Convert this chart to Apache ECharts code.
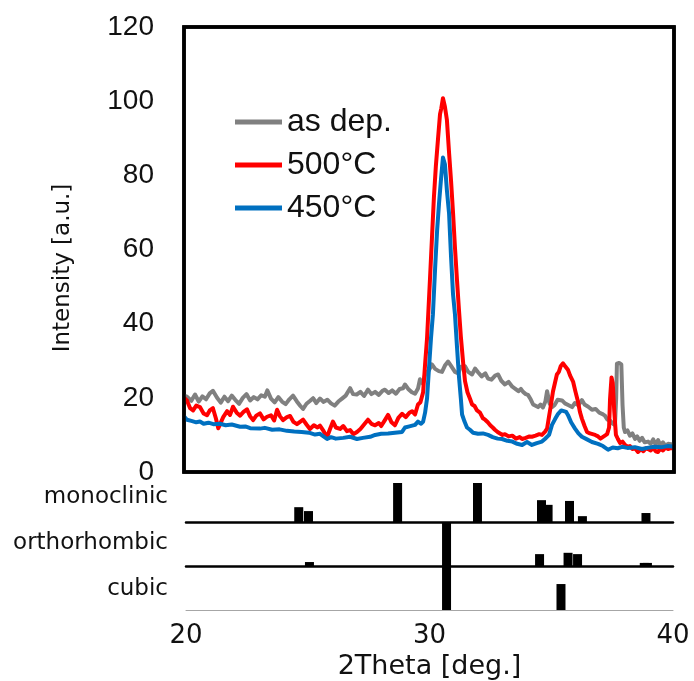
<!DOCTYPE html>
<html>
<head>
<meta charset="utf-8">
<script src="https://cdn.jsdelivr.net/npm/echarts@6/dist/echarts.min.js"></script>
<style>
html,body{margin:0;padding:0;background:#fff;}
#chart{width:694px;height:681px;}
</style>
</head>
<body>
<div id="chart"></div>
<script>
// ---------- XRD curves ----------
const thetaGray = [20.0,20.12,20.3,20.45,20.6,20.75,20.9,21.05,21.18,21.35,21.5,21.65,21.8,21.95,22.1,22.25,22.4,22.55,22.7,22.85,23.0,23.15,23.3,23.4,23.55,23.7,23.85,24.0,24.15,24.3,24.45,24.6,24.75,24.86,25.0,25.15,25.27,25.4,25.55,25.7,25.85,26.0,26.15,26.3,26.45,26.6,26.78,26.9,27.05,27.2,27.35,27.51,27.65,27.8,27.95,28.1,28.2,28.35,28.5,28.65,28.8,28.94,29.02,29.15,29.3,29.43,29.55,29.63,29.75,29.85,30.0,30.12,30.25,30.4,30.53,30.65,30.78,30.9,31.06,31.2,31.3,31.47,31.6,31.76,31.88,32.0,32.15,32.3,32.41,32.55,32.7,32.82,32.95,33.1,33.25,33.4,33.51,33.65,33.75,33.84,33.95,34.04,34.15,34.25,34.33,34.45,34.55,34.65,34.75,34.82,34.92,35.02,35.12,35.25,35.43,35.55,35.7,35.84,35.95,36.1,36.24,36.35,36.5,36.65,36.8,36.95,37.06,37.18,37.27,37.4,37.5,37.59,37.64,37.67,37.76,37.85,37.9,37.95,38.0,38.1,38.2,38.3,38.41,38.5,38.6,38.7,38.8,38.94,39.05,39.15,39.25,39.35,39.45,39.55,39.65,39.76,39.88,40.0];
const intGray = [20.6,20.3,19.2,20.9,19.0,20.4,19.6,21.2,21.9,20.0,18.7,20.3,19.1,20.6,19.4,18.4,20.0,21.0,19.3,20.2,19.6,20.7,20.3,22.0,19.8,18.8,20.2,19.0,18.3,19.6,20.6,19.1,17.8,17.0,18.4,19.2,19.9,18.6,19.8,18.9,19.5,18.5,17.9,19.0,19.8,20.6,22.6,21.0,20.9,21.6,20.5,22.2,21.0,21.6,20.8,21.9,22.2,21.3,22.0,21.1,22.4,22.6,23.6,22.4,21.5,21.1,22.5,25.0,23.8,26.5,27.5,29.0,27.8,27.2,27.0,28.7,29.8,28.6,27.0,26.6,28.4,28.5,27.0,26.3,27.9,26.9,25.8,26.6,25.2,24.9,26.0,26.3,24.6,23.6,24.3,23.0,22.5,21.8,22.4,21.6,21.0,20.8,19.6,18.2,18.4,17.5,18.2,17.4,19.0,21.8,18.5,17.5,18.0,19.5,19.3,18.5,18.0,17.5,18.6,18.0,19.4,18.2,17.6,16.8,17.0,16.0,15.7,15.2,14.2,13.8,13.0,12.7,20.0,29.2,29.4,29.0,18.0,12.0,10.8,11.2,9.8,10.4,8.9,9.6,8.4,9.2,8.0,8.2,7.6,8.8,7.4,8.6,7.2,8.0,7.1,7.6,7.5,7.3];

const thetaRed = [20.0,20.12,20.25,20.37,20.5,20.65,20.8,20.94,21.05,21.18,21.3,21.4,21.47,21.6,21.76,21.88,22.0,22.15,22.29,22.43,22.57,22.7,22.82,22.95,23.1,23.25,23.39,23.55,23.68,23.8,23.92,24.04,24.2,24.33,24.47,24.61,24.75,24.86,25.0,25.14,25.3,25.45,25.55,25.7,25.84,25.96,26.08,26.2,26.37,26.5,26.65,26.78,26.92,27.06,27.2,27.35,27.51,27.65,27.8,27.95,28.05,28.2,28.33,28.47,28.61,28.75,28.9,29.05,29.2,29.31,29.43,29.55,29.65,29.76,29.84,29.92,30.04,30.12,30.2,30.28,30.37,30.45,30.5,30.57,30.65,30.73,30.82,30.9,30.98,31.06,31.14,31.22,31.3,31.4,31.47,31.57,31.67,31.76,31.86,31.96,32.08,32.2,32.29,32.4,32.5,32.6,32.69,32.8,32.9,33.0,33.1,33.25,33.4,33.55,33.7,33.8,33.95,34.1,34.2,34.35,34.5,34.61,34.73,34.82,34.9,34.96,35.06,35.14,35.22,35.3,35.38,35.47,35.55,35.67,35.76,35.88,35.98,36.08,36.16,36.24,36.35,36.45,36.57,36.65,36.78,36.9,37.0,37.06,37.18,37.27,37.35,37.39,37.45,37.5,37.56,37.63,37.71,37.8,37.9,38.0,38.1,38.2,38.3,38.41,38.53,38.65,38.75,38.85,38.94,39.05,39.15,39.25,39.35,39.45,39.55,39.65,39.76,39.88,40.0];
const intRed = [20.0,19.3,17.2,16.6,17.9,17.5,15.8,15.3,16.6,17.2,14.5,11.8,11.5,14.8,16.4,15.4,17.6,16.0,15.2,16.2,16.9,15.0,14.0,15.2,15.8,14.2,14.9,15.3,13.9,16.8,15.0,14.0,14.8,15.1,13.5,12.9,13.6,14.1,12.8,11.6,12.6,12.0,12.5,11.0,9.4,11.6,13.6,12.0,11.6,12.4,11.0,11.3,10.2,10.8,11.6,12.8,14.1,13.0,12.6,13.2,12.4,14.0,15.4,13.4,12.6,14.6,15.7,14.8,16.0,16.4,15.5,18.2,18.8,21.5,29.0,36.0,52.0,63.0,74.0,82.5,90.0,96.5,98.0,100.8,98.5,95.0,86.0,78.5,70.0,60.5,52.0,44.0,36.5,29.0,24.5,21.5,19.8,18.2,17.8,16.6,16.0,14.5,14.1,13.4,12.6,12.0,11.4,10.8,10.4,10.0,10.2,9.6,9.8,9.0,9.4,8.9,9.2,9.6,9.5,9.8,10.2,10.0,10.8,11.7,15.0,17.4,21.7,24.0,26.3,27.0,28.6,29.3,28.6,27.6,26.0,24.4,21.6,19.0,16.2,14.4,12.4,10.8,10.4,10.6,10.0,9.6,9.0,8.9,9.8,10.2,12.0,19.8,25.5,24.0,16.5,10.0,8.9,7.8,8.2,7.3,6.8,7.0,6.2,6.4,5.4,6.2,5.6,6.4,6.2,5.8,6.6,5.6,5.4,6.4,5.8,6.6,6.2,6.5,6.4];

const thetaBlue = [20.0,20.12,20.3,20.5,20.65,20.8,21.0,21.2,21.47,21.7,21.95,22.29,22.5,22.7,23.1,23.3,23.6,23.9,24.2,24.5,24.8,25.1,25.35,25.55,25.84,26.0,26.2,26.5,26.78,27.06,27.3,27.6,27.8,28.05,28.33,28.61,28.9,29.02,29.2,29.43,29.55,29.68,29.76,29.84,29.92,30.0,30.08,30.16,30.25,30.33,30.41,30.49,30.57,30.65,30.73,30.82,30.9,30.98,31.06,31.14,31.22,31.3,31.35,31.45,31.55,31.67,31.8,32.0,32.2,32.41,32.6,32.8,32.98,33.2,33.4,33.6,33.8,34.0,34.2,34.4,34.61,34.73,34.9,35.02,35.14,35.27,35.4,35.47,35.6,35.67,35.8,35.96,36.1,36.24,36.45,36.65,36.9,37.1,37.31,37.5,37.7,37.88,38.1,38.4,38.69,38.9,39.2,39.51,39.76,40.0];
const intBlue = [15.0,14.1,13.8,13.4,13.6,13.0,13.3,12.9,13.0,12.6,12.8,12.2,12.3,11.8,11.7,11.9,11.4,11.5,11.1,10.9,10.8,10.6,10.1,10.3,8.9,9.4,9.0,9.2,9.5,8.9,9.2,9.5,10.0,10.3,10.4,10.6,10.8,12.0,12.3,12.7,13.6,13.0,13.6,16.0,19.8,28.0,36.0,42.5,55.0,65.0,72.5,79.0,84.8,83.0,76.0,69.6,58.0,48.0,42.5,34.0,26.0,19.8,15.5,13.6,12.0,11.4,10.6,10.3,10.4,10.0,9.4,9.0,8.9,8.4,8.2,7.6,7.3,8.1,7.3,7.8,8.2,8.9,10.0,12.7,14.2,15.7,16.6,16.8,16.2,15.4,13.4,11.7,10.4,9.5,8.8,8.1,7.6,7.0,6.0,6.6,6.4,6.8,6.5,6.7,6.2,6.5,6.8,6.7,7.0,6.8];

const seriesNames = ['as dep.', '500°C', '450°C'];
const yTicks = [0, 20, 40, 60, 80, 100, 120];
const xTicks = [20, 30, 40];

// ---------- reference patterns (2θ, relative intensity) ----------
const monoTheta = [24.63, 25.03, 28.69, 31.97, 34.6, 34.87, 35.75, 36.28, 38.89];
const monoInt   = [38, 28, 100, 100, 56, 44, 54, 15, 23];
const orthoTheta = [25.07, 30.7, 34.52, 35.69, 36.08, 38.82, 38.95];
const orthoInt   = [9, 100, 27, 30, 27, 7, 7];
const cubicTheta = [30.7, 35.4];
const cubicInt   = [100, 59];
const phaseNames = ['monoclinic', 'orthorhombic', 'cubic'];

const pair = (xs, ys) => xs.map((x, i) => [x, ys[i]]);

const chart = echarts.init(document.getElementById('chart'), null, {renderer: 'canvas'});

const noAxisParts = {axisTick: {show: false}, axisLabel: {show: false}, splitLine: {show: false}};

const hiddenX = (gi) => Object.assign({
  type: 'value', gridIndex: gi, min: 20, max: 40, interval: 10,
  axisLine: {show: true, onZero: false, lineStyle: {color: '#000', width: 2.5}}
}, noAxisParts);
const hiddenY = (gi) => Object.assign({
  type: 'value', gridIndex: gi, min: 0, max: 100, axisLine: {show: false}
}, noAxisParts);

const barSeries = (name, gi, xs, ys) => ({
  type: 'bar', name: name, xAxisIndex: gi, yAxisIndex: gi,
  data: pair(xs, ys), barWidth: 9, itemStyle: {color: '#000'}, silent: true
});

const lineSeries = (name, xs, ys, color) => ({
  type: 'line', name: name, xAxisIndex: 0, yAxisIndex: 0,
  data: pair(xs, ys), showSymbol: false, symbol: 'none',
  lineStyle: {color: color, width: 4, join: 'round'}, itemStyle: {color: color}
});

const bottomX = {
  type: 'value', gridIndex: 3, min: 20, max: 40, interval: 10,
  axisLine: {show: true, onZero: false, lineStyle: {color: '#a6a6a6', width: 1}},
  axisTick: {show: false},
  axisLabel: {show: true, margin: 13, fontFamily: 'DejaVu Sans', fontSize: 26, color: '#111',
    customValues: xTicks},
  splitLine: {show: false},
  name: '2Theta [deg.]', nameLocation: 'middle', nameGap: 43,
  nameTextStyle: {fontFamily: 'DejaVu Sans', fontSize: 27, color: '#111'}
};

const gridBase = {outerBoundsMode: 'none', containLabel: false};

const option = {
  animation: false,
  backgroundColor: '#fff',
  grid: [
    Object.assign({left: 184, width: 490, top: 27, height: 445, show: true, borderColor: '#000', borderWidth: 3.5, backgroundColor: 'rgba(0,0,0,0)'}, gridBase),
    Object.assign({left: 186, width: 487, top: 483, height: 39}, gridBase),
    Object.assign({left: 186, width: 487, top: 522, height: 44}, gridBase),
    Object.assign({left: 186, width: 487, top: 566, height: 44}, gridBase)
  ],
  xAxis: [
    Object.assign({type: 'value', gridIndex: 0, min: 20, max: 40, interval: 10, axisLine: {show: false}}, noAxisParts),
    hiddenX(1), hiddenX(2), bottomX
  ],
  yAxis: [
    {type: 'value', gridIndex: 0, min: 0, max: 120, interval: 20,
     axisLine: {show: false}, axisTick: {show: false}, splitLine: {show: false},
     axisLabel: {margin: 30, fontFamily: 'Liberation Sans', fontSize: 28, color: '#111', customValues: yTicks}},
    hiddenY(1), hiddenY(2), hiddenY(3)
  ],
  legend: {
    orient: 'vertical', left: 235, top: 106, padding: 0, itemWidth: 47, itemHeight: 5, itemGap: 11,
    icon: 'rect', data: seriesNames, selectedMode: false,
    textStyle: {fontFamily: 'Liberation Sans', fontSize: 32, color: '#111', lineHeight: 31}
  },
  graphic: [
    {type: 'text', x: 63, y: 268, rotation: Math.PI / 2,
     style: {text: 'Intensity [a.u.]', font: '23px "DejaVu Sans"', fill: '#111', align: 'center', verticalAlign: 'middle'}},
    {type: 'text', x: 168, y: 497, style: {text: phaseNames[0], font: '23px "DejaVu Sans"', fill: '#111', align: 'right', verticalAlign: 'middle'}},
    {type: 'text', x: 168, y: 543, style: {text: phaseNames[1], font: '23px "DejaVu Sans"', fill: '#111', align: 'right', verticalAlign: 'middle'}},
    {type: 'text', x: 168, y: 589, style: {text: phaseNames[2], font: '23px "DejaVu Sans"', fill: '#111', align: 'right', verticalAlign: 'middle'}}
  ],
  series: [
    lineSeries(seriesNames[0], thetaGray, intGray, '#808080'),
    lineSeries(seriesNames[1], thetaRed, intRed, '#ff0000'),
    lineSeries(seriesNames[2], thetaBlue, intBlue, '#0070c0'),
    barSeries(phaseNames[0], 1, monoTheta, monoInt),
    barSeries(phaseNames[1], 2, orthoTheta, orthoInt),
    barSeries(phaseNames[2], 3, cubicTheta, cubicInt)
  ]
};
chart.setOption(option);

// frame of the main plot, placed from the axis scale
const tl = chart.convertToPixel({gridIndex: 0}, [20, 120]);
const br = chart.convertToPixel({gridIndex: 0}, [40, 0]);
chart.setOption({graphic: [
  {id: 'frame', type: 'rect', z: 100, silent: true,
   shape: {x: tl[0], y: tl[1], width: br[0] - tl[0], height: br[1] - tl[1]},
   style: {fill: 'none', stroke: '#000', lineWidth: 3.5}}
]});
</script>
</body>
</html>
